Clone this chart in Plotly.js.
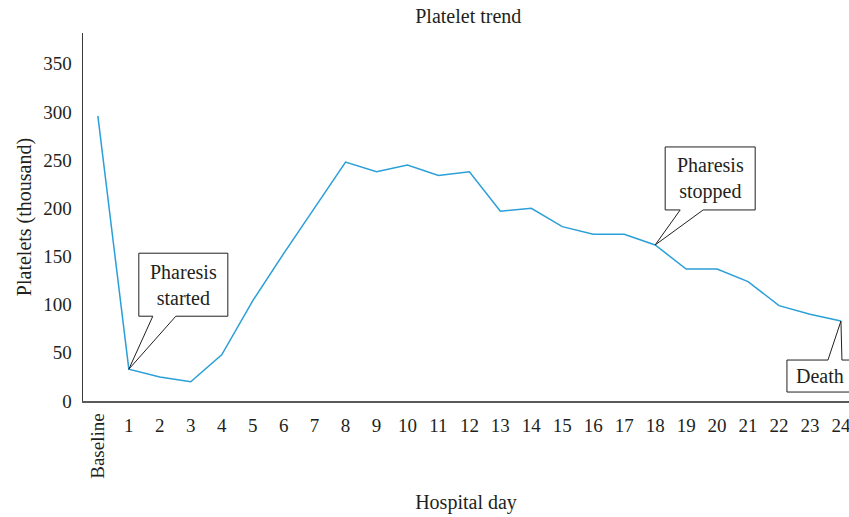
<!DOCTYPE html>
<html>
<head>
<meta charset="utf-8">
<script src="https://cdn.plot.ly/plotly-3.0.1.min.js"></script>
<style>html,body{margin:0;padding:0;background:#fff;overflow:hidden}#chart{width:849px;height:517px}</style>
</head>
<body>
<div id="chart"></div>
<script>
const categories = ["Baseline","1","2","3","4","5","6","7","8","9","10","11","12","13","14","15","16","17","18","19","20","21","22","23","24"];
const platelets = [296,33,25,20,48,104,153,201,248,238,245,234,238,197,200,181,173,173,162,137,137,124,99,90,83];
const tickDays = categories.slice(1);
const notes = [
  {idx: 1, text: "Pharesis<br>started"},
  {idx: 18, text: "Pharesis<br>stopped"},
  {idx: 24, text: "Death"}
];

const FONT = "Liberation Serif, Times New Roman, serif";
const txt = "#231f20";

const calloutPaths = [
  "M0,0 L24,53 L10,53 L10,116 L99,116 L99,53 L47,53 Z",
  "M0,0 L25,35 L10,35 L10,98 L100,98 L100,35 L48,35 Z",
  "M0,0 L1,-39 L40,-39 L40,-71 L-54,-71 L-54,-39 L-13,-39 Z"
];
const textShift = [[54.5, 84.5],[55, 66.5],[-21, -55]];

const shapes = notes.map((n, i) => ({
  type: "path", xref: "x", yref: "y",
  xsizemode: "pixel", ysizemode: "pixel",
  xanchor: categories[n.idx], yanchor: platelets[n.idx],
  path: calloutPaths[i],
  line: {color: "#231f20", width: 1}, fillcolor: "#ffffff", layer: "above"
}));

const annotations = notes.map((n, i) => ({
  x: categories[n.idx], y: platelets[n.idx], xref: "x", yref: "y",
  text: n.text, showarrow: false, xshift: textShift[i][0], yshift: textShift[i][1],
  font: {family: FONT, size: 20, color: txt}
}));
annotations.push({
  x: categories[0], y: -0.122, xref: "x", yref: "paper",
  xanchor: "center", yanchor: "middle",
  text: categories[0], textangle: -90, showarrow: false,
  font: {family: FONT, size: 19, color: txt}
});

const trace = {
  x: categories, y: platelets, type: "scatter", mode: "lines",
  line: {color: "#2a9fd8", width: 1.5}, hoverinfo: "x+y"
};

const layout = {
  width: 849, height: 517,
  margin: {l: 83, r: 0, t: 33, b: 116},
  paper_bgcolor: "#fff", plot_bgcolor: "#fff",
  showlegend: false,
  title: {text: "Platelet trend", font: {family: FONT, size: 20, color: txt},
          xref: "paper", x: 0.503, yref: "container", y: 0.969, yanchor: "middle"},
  xaxis: {
    type: "category", range: [-0.48, 24.26],
    tickvals: tickDays, ticktext: tickDays,
    showline: true, linecolor: "#5a5a5a", linewidth: 2,
    showgrid: false, zeroline: false,
    ticks: "outside", ticklen: 6, tickcolor: "rgba(0,0,0,0)",
    tickfont: {family: FONT, size: 19, color: txt},
    title: {text: "Hospital day", font: {family: FONT, size: 20, color: txt}, standoff: 60}
  },
  yaxis: {
    range: [0, 382], tickvals: [0,50,100,150,200,250,300,350],
    showline: true, linecolor: "#3a3a3a", linewidth: 1.5,
    showgrid: false, zeroline: false,
    ticks: "outside", ticklen: 6, tickcolor: "rgba(0,0,0,0)",
    tickfont: {family: FONT, size: 19, color: txt},
    title: {text: "Platelets (thousand)", font: {family: FONT, size: 20, color: txt}, standoff: 6}
  },
  shapes: shapes,
  annotations: annotations
};

Plotly.newPlot("chart", [trace], layout, {displayModeBar: false, staticPlot: true});
</script>
</body>
</html>
